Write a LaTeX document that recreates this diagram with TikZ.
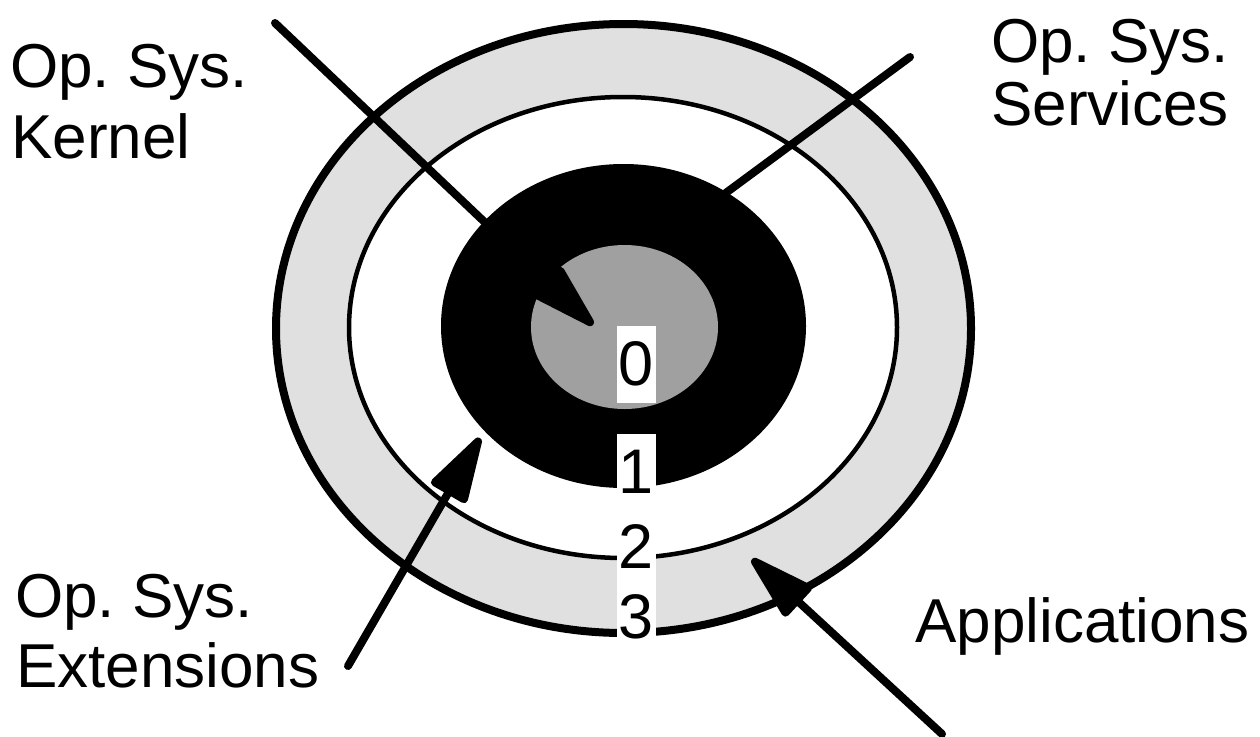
\documentclass[tikz,border=0pt]{standalone}
\usepackage{fontspec}
\setmainfont{Liberation Sans}
\usetikzlibrary{shapes.geometric,arrows.meta}
\definecolor{ringgray}{HTML}{E0E0E0}
\definecolor{coregray}{HTML}{A0A0A0}
\frenchspacing
\begin{document}
\begin{tikzpicture}[x=1pt,y=-1pt,
  lbl/.style={font=\fontsize{62}{72}\selectfont, anchor=base west, inner sep=0pt},
  ring/.style={ellipse, inner sep=0pt, outer sep=0pt},
  num/.style={font=\fontsize{63}{72}\selectfont, fill=white, anchor=base, inner xsep=1.9pt, inner ysep=2pt, text height=57pt, text depth=16pt},
  pointer/.style={line width=8pt, line cap=round, -{Triangle[length=76pt,width=42pt,round]}},
  plainline/.style={line width=8pt, line cap=round},
]
\useasboundingbox (0,0) rectangle (1260,736);
% rings
\node[ring, draw, line width=8pt, fill=ringgray, minimum width=695pt, minimum height=609pt] (outer) at (623.5,328.5) {};
\node[ring, draw, line width=4.5pt, fill=white, minimum width=548pt, minimum height=461pt] (middle) at (623,327.5) {};
\node[ring, fill=black, minimum width=365pt, minimum height=324pt] (core) at (623.5,326) {};
\node[ring, fill=coregray, minimum width=187pt, minimum height=164pt] (kernel) at (624.5,327) {};
% pointer ends
\coordinate (kstart) at (275,23);
\coordinate (ktip) at (593,325);
\coordinate (sstart) at (910,57);
\coordinate (send) at (700,212);
\coordinate (estart) at (348,666);
\coordinate (etip) at (480,438);
\coordinate (astart) at (942,734);
\coordinate (atip) at (752,559);
\draw[pointer] (kstart) -- (ktip);
\draw[plainline] (sstart) -- (send);
\draw[pointer] (estart) -- (etip);
\draw[pointer] (astart) -- (atip);
% ring numbers
\node[num] (n0) at (636.5,385) {0};
\node[num] (n1) at (636.5,493) {1};
\node[num] (n2) at (636.5,568) {2};
\node[num] (n3) at (636.5,638) {3};
% labels
\node[lbl] (k1) at (10,87) {Op. Sys.};
\node[lbl] (k2) at (11,158) {Kernel};
\node[lbl] (s1) at (991,62) {Op. Sys.};
\node[lbl] (s2) at (991,125) {Services};
\node[lbl] (e1) at (15,617) {Op. Sys.};
\node[lbl] (e2) at (16,687) {Extensions};
\node[lbl] (a1) at (915,642) {Applications};
\end{tikzpicture}
\end{document}
